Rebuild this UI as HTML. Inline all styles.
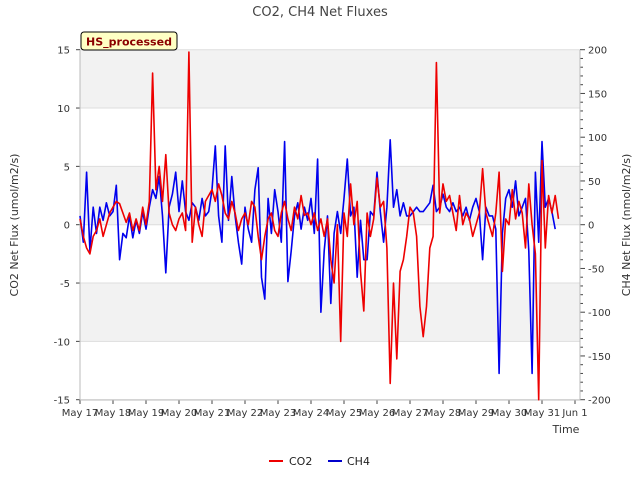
<!DOCTYPE html>
<html><head><meta charset="utf-8"><style>
body{margin:0;background:#fff;font-family:"Liberation Sans","DejaVu Sans",sans-serif;}
svg text{font-family:"DejaVu Sans","Liberation Sans",sans-serif;}
</style></head><body>
<svg id="chart" width="640" height="480" xmlns="http://www.w3.org/2000/svg">
<text x="320" y="16" text-anchor="middle" font-size="13" fill="#444">CO2, CH4 Net Fluxes</text>
<g id="bands"></g>
<g id="axes"></g>
<g id="series"></g>
<rect x="81" y="32" width="96" height="18" rx="3" fill="#ffffc4" stroke="#000" stroke-width="1"/>
<text x="129" y="45.5" text-anchor="middle" font-size="11" font-weight="bold" fill="#8b0000">HS_processed</text>
<text transform="translate(18,225) rotate(-90)" text-anchor="middle" font-size="11" fill="#333">CO2 Net Flux (umol/m2/s)</text>
<text transform="translate(630,225) rotate(-90)" text-anchor="middle" font-size="11" fill="#333">CH4 Net Flux (nmol/m2/s)</text>
<text x="566" y="433" text-anchor="middle" font-size="11" fill="#333">Time</text>
<g>
<line x1="269" y1="461" x2="283" y2="461" stroke="#e00" stroke-width="2"/>
<text x="289" y="465" font-size="11" fill="#222">CO2</text>
<line x1="328" y1="461" x2="342" y2="461" stroke="#00c" stroke-width="2"/>
<text x="347" y="465" font-size="11" fill="#222">CH4</text>
</g>
</svg>
<script>
const xTickLabels = ["May 17","May 18","May 19","May 20","May 21","May 22","May 23","May 24","May 25","May 26","May 27","May 28","May 29","May 30","May 31","Jun 1"];
const leftTicks = [-15,-10,-5,0,5,10,15];
const rightTicks = [-200,-150,-100,-50,0,50,100,150,200];
const tStart = 0, tStep = 0.1;
const co2 = [0.5,-1,-2,-2.5,-1,-0.5,0.5,-1,0,1,
1.5,2,1.8,1,0.2,1,-0.5,0.5,-0.5,1.5,
0,2,13,3,5,2,6,1,0,-0.5,
0.5,1,-0.5,14.8,-1.5,1.5,0,-1,2,2.5,
3,2,3.5,2.5,1,0.5,2,1,-0.5,0.5,
1,0,2,1.5,-1,-3,-1,0.5,1,-0.5,
-1,1,2,0.5,-0.5,1.5,0.5,2.5,0.8,1,
0,1,-0.5,0.5,-1,0.5,-3,-5,0,-10,
1,-1,3.5,0,2,-4,-7.4,1,-1,0.5,
4,1.5,2,-2,-13.6,-5,-11.5,-4,-3,-1,
1.5,1,-1,-7,-9.6,-7,-2,-1,13.9,1,
3.5,2,2.5,1,-0.5,2.5,0,1,0.5,-1,
0,1,4.8,1,0,-1,1,4.5,-4,0.5,
0,3,0.5,2,1,-2,3.5,0,-2.5,-15,
5.5,-2,2.5,1,2.5,0.5];
const ch4 = [10,-20,60,-30,20,-10,20,5,25,10,
15,45,-40,-10,-15,10,-15,5,-10,15,
-5,20,40,30,55,10,-55,20,35,60,
15,50,15,5,25,20,5,30,10,15,
40,90,10,-20,90,5,55,10,-20,-45,
20,-5,-20,40,65,-60,-85,30,-10,40,
15,-20,95,-65,-30,10,25,-5,20,5,
30,-10,75,-100,-30,10,-90,-10,15,-10,
30,75,10,20,-60,5,-40,-40,15,10,
60,15,-20,20,97,20,40,10,25,10,
10,15,20,15,15,20,25,45,15,20,
35,20,15,25,15,20,10,20,5,20,
30,15,-40,20,10,10,-5,-170,-10,30,
40,20,50,10,20,30,-30,-170,60,-20,
95,20,30,15,-5];
const NS="http://www.w3.org/2000/svg";
const L=80,R=580,T=50,B=400;
const xS=d=>L+d*33;
const yL=v=>224.7-v*(350/30);
const yR=v=>224.7-v*(350/400);
function mk(tag,attrs,parent){const e=document.createElementNS(NS,tag);for(const k in attrs)e.setAttribute(k,attrs[k]);parent.appendChild(e);return e;}
const bands=document.getElementById('bands'),axes=document.getElementById('axes'),ser=document.getElementById('series');
mk('rect',{x:L,y:T,width:R-L,height:B-T,fill:'#fff'},bands);
[[10,15],[0,5],[-10,-5]].forEach(b=>{
 const r=mk('rect',{x:L,y:yL(b[1]),width:R-L,height:yL(b[0])-yL(b[1]),fill:'#f2f2f2'},bands);
 
 
});
leftTicks.forEach(v=>{
 const g=mk('line',{x1:L,x2:R,y1:yL(v),y2:yL(v),stroke:'#ddd','stroke-width':1},bands);
 
 
 const t=mk('text',{x:70,y:yL(v)+4,'text-anchor':'end','font-size':10,fill:'#333'},axes);
 t.textContent=v;
 
 
 mk('line',{x1:L-4,x2:L,y1:yL(v),y2:yL(v),stroke:'#444'},axes);
});
for(let v=-200;v<=200;v+=10){mk('line',{x1:R,x2:R+(v%50===0?5:3),y1:yR(v),y2:yR(v),stroke:'#444'},axes);}
rightTicks.forEach(v=>{
 const t=mk('text',{x:588,y:yR(v)+4,'font-size':10,fill:'#333'},axes);
 t.textContent=v;
 
 
});
xTickLabels.forEach((s,i)=>{
 mk('line',{x1:xS(i),x2:xS(i),y1:B,y2:B+4,stroke:'#444'},axes);
 const t=mk('text',{x:xS(i),y:416,'text-anchor':'middle','font-size':10,fill:'#333'},axes);
 t.textContent=s;
 
 
});
mk('line',{x1:L,x2:L,y1:T,y2:B,stroke:'#bbb'},axes);
mk('line',{x1:L,x2:R,y1:B,y2:B,stroke:'#bbb'},axes);
mk('line',{x1:R,x2:R,y1:T,y2:B,stroke:'#bbb'},axes);
const pCH4=ch4.map((v,i)=>xS(tStart+i*tStep).toFixed(1)+','+yR(v).toFixed(1)).join(' ');
const l2=mk('polyline',{points:pCH4,fill:'none',stroke:'#0000ee','stroke-width':1.6,'stroke-linejoin':'round'},ser);


const pCO2=co2.map((v,i)=>xS(tStart+i*tStep).toFixed(1)+','+yL(v).toFixed(1)).join(' ');
const l1=mk('polyline',{points:pCO2,fill:'none',stroke:'#ee0000','stroke-width':1.6,'stroke-linejoin':'round'},ser);


</script>
</body></html>
